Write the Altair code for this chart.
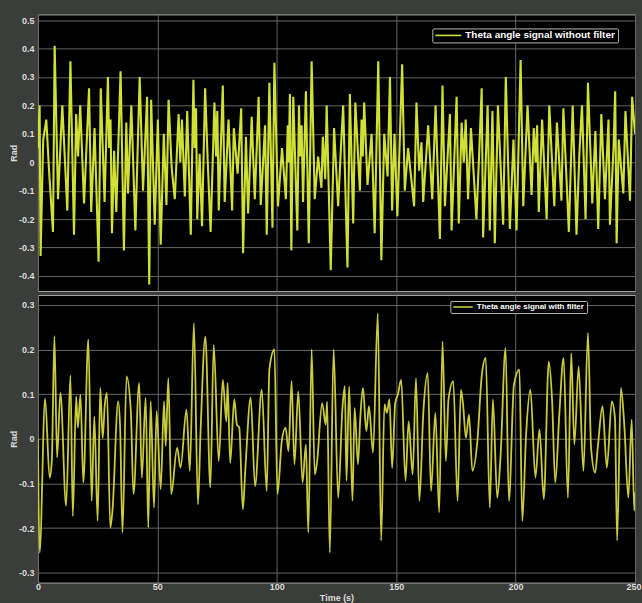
import altair as alt
import pandas as pd

# Time (s) / angle (rad) samples of the raw theta signal
top_points = [
    (0.0, 0.05), (0.7, 0.20), (1.1, -0.33), (2.2, 0.08), (3.5, 0.15), (4.8, -0.05),
    (6.3, -0.245), (7.0, 0.41), (8.4, -0.13), (10.2, 0.20), (12.3, -0.17), (13.6, 0.355),
    (15.1, -0.255), (16.0, 0.17), (16.8, 0.02), (17.7, 0.20), (19.3, -0.145), (21.4, 0.26),
    (22.3, -0.175), (23.7, 0.12), (25.4, -0.35), (26.3, 0.26), (27.9, -0.14), (29.3, 0.30),
    (29.8, 0.05), (30.4, 0.15), (31.0, -0.25), (31.9, 0.04), (32.8, -0.175), (34.6, 0.32),
    (36.0, -0.31), (37.0, 0.14), (37.7, -0.11), (39.1, 0.20), (40.8, -0.24), (42.6, 0.30),
    (44.0, -0.10), (45.7, 0.23), (46.6, -0.43), (47.4, 0.22), (48.9, -0.22), (50.2, 0.15),
    (51.4, -0.29), (52.7, 0.10), (53.8, -0.15), (54.7, 0.22), (56.0, -0.02), (57.3, -0.13),
    (58.9, 0.17), (59.6, 0.00), (60.3, 0.15), (61.5, -0.12), (62.5, 0.18), (64.0, -0.255),
    (65.1, 0.29), (65.6, 0.05), (66.2, 0.19), (66.7, -0.20), (67.7, 0.03), (68.7, -0.225),
    (70.0, 0.26), (71.1, 0.00), (72.3, -0.245), (73.9, 0.21), (74.6, 0.02), (75.1, 0.18),
    (75.7, -0.17), (77.4, 0.27), (78.2, -0.14), (79.8, 0.15), (81.3, -0.17), (82.0, 0.12),
    (83.6, -0.04), (85.1, 0.19), (85.9, -0.32), (87.1, 0.09), (88.0, -0.18), (89.5, 0.16),
    (90.8, -0.13), (92.4, 0.23), (93.3, -0.15), (95.1, 0.13), (95.8, -0.255), (96.9, 0.28),
    (98.2, -0.23), (99.0, 0.35), (100.5, -0.155), (102.2, 0.05), (103.8, -0.13), (104.6, 0.13),
    (105.0, 0.00), (105.5, 0.24), (106.1, -0.31), (106.9, 0.23), (108.6, -0.24), (109.3, 0.20),
    (109.8, 0.02), (110.4, 0.13), (111.0, -0.14), (112.2, 0.25), (113.4, -0.285), (114.6, 0.355),
    (115.9, -0.13), (117.3, 0.02), (118.7, -0.09), (119.3, 0.09), (120.3, -0.06), (120.9, 0.20),
    (122.6, -0.38), (124.0, 0.12), (125.7, -0.155), (126.8, 0.04), (127.8, 0.20), (129.6, -0.37),
    (130.6, 0.24), (132.0, -0.215), (132.9, 0.21), (134.8, -0.10), (135.5, 0.15), (136.0, 0.02),
    (136.6, 0.21), (138.0, -0.08), (139.7, 0.10), (141.0, -0.25), (142.5, 0.355), (143.8, -0.345),
    (145.0, 0.10), (146.4, -0.05), (147.4, 0.30), (148.3, -0.17), (149.3, 0.10), (150.5, -0.19),
    (152.5, 0.345), (153.6, -0.10), (155.0, 0.05), (157.5, -0.155), (158.5, 0.21), (159.6, -0.03),
    (160.6, 0.07), (161.3, -0.14), (163.4, 0.13), (165.1, -0.13), (166.5, 0.20), (168.3, -0.27),
    (169.4, 0.27), (170.4, -0.155), (172.5, 0.17), (173.2, -0.24), (175.3, 0.23), (176.2, -0.215),
    (177.4, 0.14), (178.3, 0.00), (179.1, 0.15), (180.1, -0.13), (181.3, 0.12), (183.6, -0.20),
    (184.7, 0.02), (185.8, 0.26), (186.4, -0.265), (188.3, 0.20), (189.2, -0.24), (190.3, 0.18),
    (191.3, -0.285), (192.6, 0.20), (194.8, -0.22), (195.9, 0.30), (197.6, -0.235), (199.1, 0.08),
    (200.4, -0.24), (202.1, 0.36), (203.2, -0.155), (205.0, 0.20), (206.7, -0.115), (207.6, 0.12),
    (208.4, 0.00), (209.0, 0.13), (209.7, -0.175), (211.1, 0.15), (213.0, -0.20), (214.1, 0.20),
    (216.2, -0.155), (217.3, 0.14), (219.2, -0.135), (220.0, 0.19), (222.3, -0.245), (223.9, 0.20),
    (225.5, -0.255), (226.7, 0.03), (227.8, 0.20), (229.3, -0.20), (230.3, 0.28), (232.1, -0.145),
    (233.4, 0.11), (234.6, -0.235), (235.9, 0.17), (237.4, -0.13), (238.9, 0.15), (239.5, -0.22),
    (241.0, 0.05), (241.7, 0.25), (242.3, -0.285), (243.2, 0.08), (245.1, -0.11), (246.0, 0.18),
    (247.9, -0.135), (248.8, 0.23), (250.0, 0.10),
]

# Time (s) / angle (rad) samples of the filtered theta signal
bottom_points = [
    (0.0, 0.0), (0.7, -0.255), (3.0, 0.09), (4.9, -0.087), (5.8, -0.05), (6.9, 0.23),
    (8.0, -0.042), (9.4, 0.103), (11.8, -0.15), (13.6, 0.142), (14.6, -0.173), (16.0, 0.095),
    (16.7, 0.025), (17.8, 0.099), (19.0, -0.098), (21.1, 0.222), (22.5, -0.139), (23.6, 0.05),
    (25.0, -0.184), (26.1, 0.114), (27.1, 0.002), (28.0, 0.077), (28.9, 0.103), (30.3, -0.199),
    (31.2, -0.161), (33.6, 0.084), (34.4, 0.028), (35.4, -0.21), (37.1, 0.14), (38.9, 0.062),
    (40.0, -0.124), (42.4, 0.125), (43.5, -0.087), (45.1, 0.092), (46.2, -0.199), (47.2, 0.084),
    (48.6, -0.154), (49.7, 0.062), (51.4, -0.113), (52.8, 0.084), (53.5, -0.016), (54.6, 0.136),
    (55.8, -0.124), (58.3, -0.02), (59.7, -0.065), (62.2, 0.065), (63.6, -0.072), (65.3, 0.259),
    (67.0, -0.147), (68.1, 0.017), (70.1, 0.229), (72.2, -0.109), (73.6, 0.21), (75.7, -0.05),
    (77.4, 0.132), (78.9, 0.039), (79.4, 0.125), (80.5, -0.054), (82.2, 0.088), (83.3, 0.032),
    (84.3, 0.025), (85.8, -0.158), (86.8, -0.072), (89.1, 0.092), (90.9, -0.106), (93.7, 0.11),
    (95.8, -0.117), (96.9, 0.155), (99.0, 0.2), (100.3, -0.124), (102.1, -0.005), (103.7, 0.025),
    (104.9, -0.028), (106.2, 0.129), (107.4, -0.057), (109.0, 0.106), (110.8, -0.098), (112.2, -0.013),
    (113.2, -0.21), (114.6, 0.2), (115.9, -0.08), (116.9, -0.05), (119.0, 0.08), (120.5, 0.032),
    (121.1, 0.083), (122.2, -0.255), (123.8, 0.2), (125.7, -0.132), (127.5, 0.069), (128.5, 0.118),
    (129.2, -0.094), (130.3, 0.118), (131.7, -0.139), (132.6, 0.069), (134.0, -0.057), (135.0, 0.05),
    (136.1, 0.114), (137.5, 0.017), (138.6, 0.073), (140.3, -0.031), (142.3, 0.281), (143.7, -0.228),
    (145.1, 0.077), (146.1, 0.058), (147.2, 0.088), (148.3, -0.065), (149.6, 0.08), (150.7, 0.099),
    (152.1, 0.132), (153.9, -0.094), (155.2, 0.039), (156.9, -0.08), (158.3, 0.136), (159.7, -0.139),
    (161.4, 0.062), (163.2, 0.147), (164.6, -0.117), (166.4, 0.058), (168.0, -0.165), (169.4, 0.218),
    (170.8, -0.05), (171.9, 0.088), (173.9, 0.129), (175.7, -0.139), (177.1, 0.11), (178.0, 0.077),
    (179.2, 0.002), (180.5, 0.054), (181.9, -0.072), (184.0, -0.005), (185.8, 0.14), (187.5, 0.181),
    (189.2, -0.154), (190.5, 0.088), (192.3, -0.132), (193.7, -0.039), (195.8, 0.203), (197.2, -0.139),
    (199.3, 0.121), (201.6, 0.155), (202.8, -0.184), (204.4, 0.01), (206.2, 0.11), (208.3, -0.087),
    (210.0, 0.021), (211.8, -0.135), (213.9, 0.173), (215.3, 0.084), (216.6, -0.098), (218.3, 0.054),
    (220.1, 0.181), (221.9, -0.132), (223.3, 0.192), (224.6, -0.013), (226.4, 0.162), (228.4, -0.072),
    (230.3, 0.237), (231.6, -0.02), (233.3, -0.076), (234.4, -0.02), (236.4, 0.073), (238.2, -0.065),
    (240.3, 0.084), (241.6, 0.047), (242.5, -0.228), (244.1, 0.114), (245.5, 0.032), (247.2, -0.132),
    (248.6, 0.043), (249.7, -0.161), (250.0, -0.12),
]

top_label = "Theta angle signal without filter"
bottom_label = "Theta angle signal with filter"

x_ticks = [0, 50, 100, 150, 200, 250]
top_ticks = [-0.4, -0.3, -0.2, -0.1, 0, 0.1, 0.2, 0.3, 0.4, 0.5]
bottom_ticks = [-0.3, -0.2, -0.1, 0, 0.1, 0.2, 0.3]
top_domain = [-0.453, 0.52]
bottom_domain = [-0.322, 0.322]

FONT = "Liberation Sans"
TEXT = "#dcdcdc"
GRID = "#666666"
PANEL_BG = "#3a3d3a"
TOP_COLOR = "#d0e034"
BOTTOM_COLOR = "#c9cb3c"

# short horizontal stroke, drawn to the right of the symbol origin
LEGEND_STROKE = "M-1,0H5.5"

top_df = pd.DataFrame(top_points, columns=["t", "v"]).assign(series=top_label)
bottom_df = pd.DataFrame(bottom_points, columns=["t", "v"]).assign(series=bottom_label)

y_fmt = "datum.value == 0 ? '0' : replace(format(datum.value, '.1f'), '\u2212', '-')"


def legend(x, y, font_size, half):
    # half = symbol half-size in px; stroke spans 6.5 * half
    return alt.Legend(
        title=None, orient="none", legendX=x, legendY=y,
        fillColor="black", strokeColor="#b5b5b5", padding=2, cornerRadius=1,
        symbolType=LEGEND_STROKE, symbolSize=(2 * half) ** 2, symbolStrokeWidth=1.6,
        labelFont=FONT, labelFontWeight="bold", labelFontSize=font_size,
        labelColor="white", labelOffset=4.5 * half + 3,
    )


x_scale = alt.Scale(domain=[0, 250], nice=False, zero=False)

top = alt.Chart(top_df).mark_line(strokeWidth=2.1, clip=True).encode(
    x=alt.X("t:Q", scale=x_scale,
            axis=alt.Axis(values=x_ticks, labels=False, ticks=False, domain=False, title=None)),
    y=alt.Y("v:Q", scale=alt.Scale(domain=top_domain, nice=False, zero=False),
            axis=alt.Axis(values=top_ticks, title="Rad", labelExpr=y_fmt, ticks=False,
                          domain=False, labelPadding=4, titleX=-19, titleAngle=-90,
                          titleBaseline="bottom")),
    color=alt.Color("series:N", scale=alt.Scale(range=[TOP_COLOR]),
                    legend=legend(395, 14, 10, 4)),
).properties(width=598, height=277)

bottom = alt.Chart(bottom_df).mark_line(strokeWidth=1.8, interpolate="monotone", clip=True).encode(
    x=alt.X("t:Q", scale=x_scale,
            axis=alt.Axis(values=x_ticks, title="Time (s)", ticks=False, domain=False,
                          labelFlush=False, labelPadding=0, titlePadding=2,
                          labelAlign={"condition": {"test": "datum.value == 250", "value": "right"},
                                      "value": "center"},
                          labelOffset={"condition": {"test": "datum.value == 250", "value": 6},
                                       "value": 0})),
    y=alt.Y("v:Q", scale=alt.Scale(domain=bottom_domain, nice=False, zero=False),
            axis=alt.Axis(values=bottom_ticks, title="Rad", labelExpr=y_fmt, ticks=False,
                          domain=False, labelPadding=4, titleX=-19, titleAngle=-90,
                          titleBaseline="bottom")),
    color=alt.Color("series:N", scale=alt.Scale(range=[BOTTOM_COLOR]),
                    legend=legend(413, 6, 8, 3)),
).properties(width=598, height=288)

chart = alt.vconcat(top, bottom, spacing=2).resolve_scale(
    color="independent"
).resolve_legend(
    color="independent"
).properties(
    padding={"left": 9, "top": 13, "right": 0, "bottom": 4},
).configure(
    background=PANEL_BG,
).configure_view(
    fill="black", stroke="#a3a3a3", strokeWidth=1,
).configure_axis(
    grid=True, gridColor=GRID, gridWidth=1, gridOpacity=1,
    labelColor=TEXT, labelFont=FONT, labelFontWeight="bold", labelFontSize=9,
    titleColor=TEXT, titleFont=FONT, titleFontWeight="bold", titleFontSize=9,
)

chart.save("out.html", embed_options={"renderer": "svg", "actions": False})
